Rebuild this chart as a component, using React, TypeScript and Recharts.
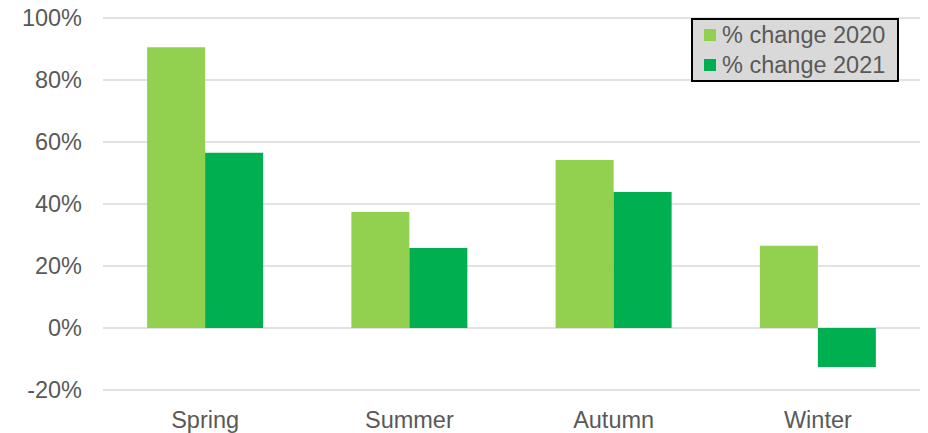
import { BarChart, Bar, XAxis, YAxis, CartesianGrid } from 'recharts'

const SEASONS = ['Spring', 'Summer', 'Autumn', 'Winter']
const CHANGE_2020 = [90.6, 37.4, 54.2, 26.5]
const CHANGE_2021 = [56.5, 25.8, 43.9, -12.6]
const Y_TICKS = [-20, 0, 20, 40, 60, 80, 100]

const LICHT = '#92d050'
const GROEN = '#00b050'
const TEKST = '#595959'
const RASTER = '#d9d9d9'
const FONT = '"Liberation Sans", Arial, sans-serif'

const data = SEASONS.map((s, i) => ({ season: s, y2020: CHANGE_2020[i], y2021: CHANGE_2021[i] }))

const LEGEND_ITEMS = [
  { label: '% change 2020', color: LICHT },
  { label: '% change 2021', color: GROEN },
]

// Legenda als los HTML-blok: de Recharts-Legend reserveert anders ruimte in de plot.
function LegendBox() {
  return (
    <div
      style={{
        position: 'absolute',
        left: 691,
        top: 18,
        width: 204,
        height: 60,
        background: '#d9d9d9',
        border: '2px solid #000',
        fontFamily: FONT,
        fontSize: 23.5,
        color: TEKST,
      }}
    >
      {LEGEND_ITEMS.map((it) => (
        <div key={it.label} style={{ display: 'flex', alignItems: 'center', height: 30, paddingLeft: 11 }}>
          <span style={{ width: 12, height: 12, background: it.color, marginRight: 6, display: 'inline-block' }} />
          <span style={{ lineHeight: '30px', whiteSpace: 'nowrap' }}>{it.label}</span>
        </div>
      ))}
    </div>
  )
}

export default function App() {
  return (
    <div style={{ position: 'absolute', left: 0, top: 0, width: 928, height: 433, background: '#fff' }}>
      <BarChart
        width={928}
        height={433}
        data={data}
        margin={{ top: 18, right: 8, bottom: 0, left: 0 }}
        barGap={0}
        barCategoryGap="21.6%"
      >
        <CartesianGrid vertical={false} stroke={RASTER} strokeWidth={1.5} />
        <XAxis
          dataKey="season"
          axisLine={false}
          tickLine={false}
          tickSize={0}
          tickMargin={21}
          height={43}
          tick={{ fill: TEKST, fontSize: 23.5, fontFamily: FONT }}
        />
        <YAxis
          domain={[-20, 100]}
          ticks={Y_TICKS}
          interval={0}
          width={103}
          axisLine={false}
          tickLine={false}
          tickSize={0}
          tickMargin={21}
          tickFormatter={(v) => `${v}%`}
          tick={{ fill: TEKST, fontSize: 23.5, fontFamily: FONT }}
        />
        <Bar dataKey="y2020" fill={LICHT} isAnimationActive={false} />
        <Bar dataKey="y2021" fill={GROEN} isAnimationActive={false} />
      </BarChart>
      <LegendBox />
    </div>
  )
}
